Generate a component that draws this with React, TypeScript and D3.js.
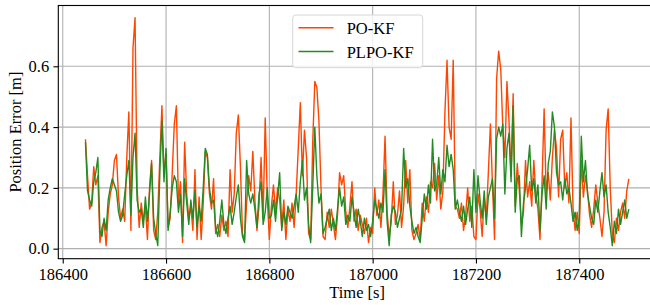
import React, { useEffect, useRef } from 'react';
import * as d3 from 'd3';

// samples start here and come every 4 s
const startTime = 186444;
const step = 4;

const poKf = [
  0.36, 0.24, 0.13, 0.15, 0.27, 0.21, 0.24, 0.02, 0.07, 0.09,
  0.01, 0.12, 0.18, 0.21, 0.29, 0.31, 0.17, 0.10, 0.13, 0.09,
  0.30, 0.45, 0.06, 0.66, 0.76, 0.20, 0.07, 0.15, 0.09, 0.14,
  0.03, 0.20, 0.29, 0.06, 0.03, 0.12, 0.30, 0.47, 0.25, 0.31,
  0.07, 0.10, 0.25, 0.41, 0.47, 0.15, 0.22, 0.02, 0.35, 0.18,
  0.10, 0.14, 0.06, 0.26, 0.03, 0.17, 0.03, 0.15, 0.32, 0.30,
  0.18, 0.13, 0.23, 0.05, 0.08, 0.04, 0.11, 0.06, 0.09, 0.04,
  0.26, 0.12, 0.18, 0.38, 0.44, 0.27, 0.05, 0.03, 0.15, 0.24,
  0.19, 0.32, 0.16, 0.06, 0.14, 0.30, 0.10, 0.43, 0.17, 0.03,
  0.14, 0.21, 0.12, 0.20, 0.16, 0.07, 0.16, 0.03, 0.13, 0.09,
  0.15, 0.07, 0.18, 0.33, 0.48, 0.24, 0.39, 0.30, 0.05, 0.03,
  0.35, 0.55, 0.53, 0.42, 0.20, 0.04, 0.03, 0.12, 0.07, 0.13,
  0.08, 0.03, 0.11, 0.25, 0.21, 0.24, 0.12, 0.07, 0.14, 0.22,
  0.09, 0.13, 0.06, 0.11, 0.08, 0.05, 0.10, 0.02, 0.07, 0.05,
  0.20, 0.11, 0.16, 0.07, 0.18, 0.37, 0.12, 0.04, 0.09, 0.22,
  0.08, 0.11, 0.19, 0.07, 0.14, 0.29, 0.15, 0.26, 0.06, 0.03,
  0.05, 0.08, 0.03, 0.15, 0.09, 0.17, 0.12, 0.22, 0.20, 0.28,
  0.16, 0.24, 0.13, 0.19, 0.45, 0.62, 0.40, 0.36, 0.62, 0.14,
  0.13, 0.10, 0.15, 0.06, 0.11, 0.20, 0.09, 0.14, 0.04, 0.03,
  0.18, 0.13, 0.04, 0.17, 0.10, 0.25, 0.41, 0.21, 0.03, 0.56,
  0.65, 0.59, 0.40, 0.30, 0.55, 0.42, 0.24, 0.51, 0.14, 0.28,
  0.19, 0.08, 0.12, 0.29, 0.17, 0.22, 0.14, 0.29, 0.18, 0.13,
  0.03, 0.22, 0.46, 0.18, 0.25, 0.16, 0.30, 0.39, 0.33, 0.17,
  0.36, 0.39, 0.20, 0.25, 0.15, 0.43, 0.13, 0.06, 0.12, 0.05,
  0.29, 0.17, 0.24, 0.19, 0.11, 0.07, 0.13, 0.21, 0.15, 0.10,
  0.04, 0.12, 0.39, 0.46, 0.20, 0.05, 0.02, 0.10, 0.06, 0.12,
  0.15, 0.10, 0.19, 0.23,
];

const plpoKf = [
  0.35, 0.19, 0.16, 0.14, 0.22, 0.25, 0.30, 0.06, 0.04, 0.10,
  0.06, 0.16, 0.20, 0.23, 0.21, 0.19, 0.12, 0.09, 0.11, 0.18,
  0.24, 0.29, 0.11, 0.30, 0.38, 0.16, 0.12, 0.13, 0.07, 0.17,
  0.09, 0.18, 0.28, 0.10, 0.05, 0.01, 0.25, 0.42, 0.22, 0.33,
  0.06, 0.12, 0.20, 0.24, 0.22, 0.12, 0.18, 0.04, 0.23, 0.15,
  0.08, 0.16, 0.10, 0.19, 0.07, 0.14, 0.09, 0.20, 0.33, 0.31,
  0.20, 0.15, 0.16, 0.07, 0.04, 0.09, 0.16, 0.08, 0.05, 0.10,
  0.14, 0.08, 0.12, 0.17, 0.21, 0.10, 0.04, 0.02, 0.29, 0.18,
  0.15, 0.18, 0.13, 0.07, 0.18, 0.22, 0.08, 0.12, 0.20, 0.10,
  0.11, 0.16, 0.09, 0.17, 0.25, 0.06, 0.12, 0.08, 0.14, 0.12,
  0.10, 0.14, 0.18, 0.12, 0.22, 0.29, 0.16, 0.20, 0.08, 0.02,
  0.20, 0.40, 0.24, 0.15, 0.18, 0.05, 0.07, 0.10, 0.13, 0.06,
  0.10, 0.06, 0.13, 0.20, 0.14, 0.17, 0.08, 0.11, 0.09, 0.17,
  0.12, 0.07, 0.13, 0.09, 0.04, 0.10, 0.06, 0.08, 0.04, 0.09,
  0.16, 0.13, 0.10, 0.15, 0.12, 0.26, 0.09, 0.01, 0.11, 0.14,
  0.12, 0.07, 0.10, 0.13, 0.33, 0.20, 0.23, 0.14, 0.09, 0.05,
  0.07, 0.04, 0.02, 0.10, 0.18, 0.13, 0.21, 0.15, 0.36, 0.19,
  0.21, 0.30, 0.18, 0.26, 0.22, 0.34, 0.27, 0.31, 0.26, 0.13,
  0.16, 0.12, 0.09, 0.14, 0.08, 0.13, 0.17, 0.07, 0.26, 0.12,
  0.24, 0.16, 0.10, 0.19, 0.08, 0.17, 0.20, 0.23, 0.10, 0.36,
  0.40, 0.37, 0.41, 0.18, 0.33, 0.38, 0.22, 0.47, 0.12, 0.23,
  0.24, 0.04, 0.15, 0.20, 0.26, 0.34, 0.19, 0.23, 0.15, 0.21,
  0.06, 0.18, 0.24, 0.13, 0.28, 0.32, 0.45, 0.40, 0.25, 0.21,
  0.22, 0.16, 0.23, 0.18, 0.20, 0.15, 0.09, 0.12, 0.06, 0.10,
  0.37, 0.22, 0.29, 0.18, 0.14, 0.10, 0.08, 0.16, 0.12, 0.19,
  0.25, 0.17, 0.21, 0.12, 0.07, 0.01, 0.09, 0.05, 0.13, 0.08,
  0.12, 0.16, 0.10, 0.13,
];

const seriesNames = ['PO-KF', 'PLPO-KF'];
const seriesColors = ['#ff4500', '#228b22'];
const xTicks = [186400, 186600, 186800, 187000, 187200, 187400];
const yTicks = [0, 0.2, 0.4, 0.6];

const FONT = "'Liberation Serif', 'Times New Roman', serif";

export default function App() {
  const ref = useRef<SVGSVGElement>(null);

  useEffect(() => {
    const svg = d3.select(ref.current);
    svg.selectAll('*').remove();

    // plot box (right edge runs a little past the picture, as in the original)
    const left = 58.3, right = 656, top = 5.5, bottom = 258.7;

    const x = d3.scaleLinear().domain([186391.4, 187548.6]).range([left, right]);
    const y = d3.scaleLinear().domain([-0.033, 0.8]).range([bottom, top]);

    svg.append('defs').append('clipPath').attr('id', 'plot-clip')
      .append('rect')
      .attr('x', left).attr('y', top)
      .attr('width', right - left).attr('height', bottom - top);

    // grid
    const grid = svg.append('g').attr('stroke', '#b0b0b0').attr('stroke-width', 1.1);
    grid.selectAll('line.vx').data(xTicks).enter().append('line')
      .attr('x1', d => x(d)).attr('x2', d => x(d))
      .attr('y1', top).attr('y2', bottom);
    grid.selectAll('line.hy').data(yTicks).enter().append('line')
      .attr('x1', left).attr('x2', right)
      .attr('y1', d => y(d)).attr('y2', d => y(d));

    // lines
    const series = [poKf, plpoKf];
    const line = d3.line<number>()
      .x((_, i) => x(startTime + i * step))
      .y(d => y(d));
    const plot = svg.append('g').attr('clip-path', 'url(#plot-clip)');
    series.forEach((vals, k) => {
      plot.append('path')
        .datum(vals)
        .attr('d', line)
        .attr('fill', 'none')
        .attr('stroke', seriesColors[k])
        .attr('stroke-width', 1.4)
        .attr('stroke-linejoin', 'round');
    });

    // axes
    const xAxis = svg.append('g')
      .attr('transform', `translate(0,${bottom})`)
      .call(d3.axisBottom(x).tickValues(xTicks).tickFormat(d3.format('d'))
        .tickSize(4.9).tickPadding(4.2));
    const yAxis = svg.append('g')
      .attr('transform', `translate(${left},0)`)
      .call(d3.axisLeft(y).tickValues(yTicks).tickFormat(d3.format('.1f'))
        .tickSize(4.9).tickPadding(4.2));
    [xAxis, yAxis].forEach(a => {
      a.attr('font-family', null).attr('font-size', null);
      a.select('.domain').remove();
      a.selectAll('line').attr('stroke', '#000').attr('stroke-width', 1.1);
      a.selectAll('text')
        .style('font-family', FONT).style('font-size', '16.5px').attr('fill', '#000');
    });

    // spines
    svg.append('rect')
      .attr('x', left).attr('y', top)
      .attr('width', right - left).attr('height', bottom - top)
      .attr('fill', 'none').attr('stroke', '#000').attr('stroke-width', 1.1);

    // axis labels
    svg.append('text')
      .attr('x', (left + right) / 2).attr('y', 298)
      .attr('text-anchor', 'middle')
      .style('font-family', FONT).style('font-size', '16.5px')
      .text('Time [s]');
    svg.append('text')
      .attr('transform', `translate(21,${(top + bottom) / 2}) rotate(-90)`)
      .attr('text-anchor', 'middle')
      .style('font-family', FONT).style('font-size', '16.5px')
      .text('Position Error [m]');

    // legend
    const lg = svg.append('g');
    lg.append('rect')
      .attr('x', 292.7).attr('y', 15).attr('width', 130).attr('height', 52.7)
      .attr('rx', 3).attr('fill', '#fff').attr('fill-opacity', 0.8)
      .attr('stroke', '#d6d6d6').attr('stroke-width', 1);
    seriesNames.forEach((name, k) => {
      const ly = 27.7 + k * 23.8;
      lg.append('line')
        .attr('x1', 298.5).attr('x2', 333.5).attr('y1', ly).attr('y2', ly)
        .attr('stroke', seriesColors[k]).attr('stroke-width', 1.4);
      lg.append('text')
        .attr('x', 346.7).attr('y', ly + 6)
        .style('font-family', FONT).style('font-size', '16.5px')
        .text(name);
    });
  }, []);

  return (
    <svg ref={ref} width={650} height={305}
      style={{ position: 'absolute', left: 0, top: 0, background: '#fff' }} />
  );
}
